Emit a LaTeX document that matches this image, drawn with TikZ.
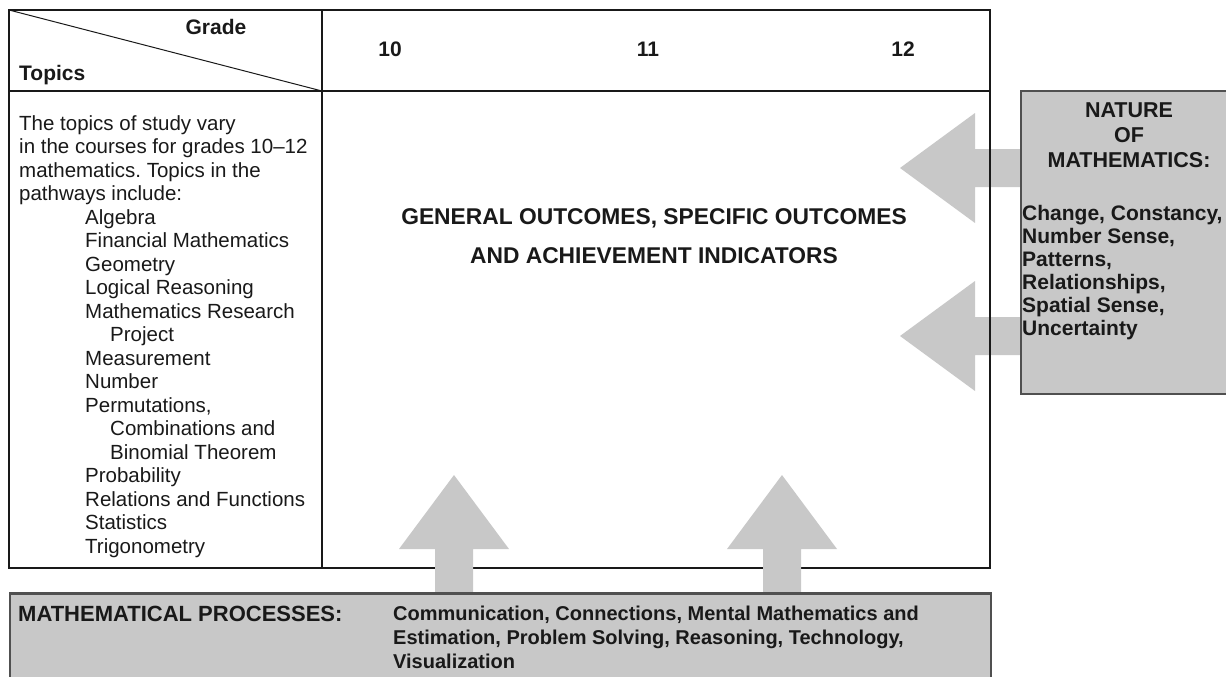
\documentclass[tikz,border=0pt]{standalone}
\usepackage{fontspec}
\setmainfont{Liberation Sans}
\usetikzlibrary{positioning}
\definecolor{panelgray}{RGB}{200,200,200}
\definecolor{framegray}{RGB}{80,80,80}
\definecolor{inkgray}{RGB}{25,25,25}
\frenchspacing

\begin{document}
\begin{tikzpicture}[x=1pt,y=-1pt,
  hd/.style={font=\fontsize{21}{25}\selectfont\bfseries, text=inkgray, inner sep=0pt},
  body/.style={font=\fontsize{20.5}{23.5}\selectfont, text=inkgray, inner sep=0pt, align=left},
  panel/.style={draw=framegray, line width=1.8pt, fill=panelgray, inner sep=0pt, anchor=north west},
  blockarrow/.style={fill=panelgray}]
  \useasboundingbox (0,0) rectangle (1226,677);
  \clip (0,0) rectangle (1226,677);

  % arrows from the nature box (behind the table frame)
  \foreach \ty in {168,336} {
    \fill[blockarrow] (900,\ty) -- ++(75,-55) -- ++(0,36) -- ++(47,0) -- ++(0,38)
      -- ++(-47,0) -- ++(0,36) -- cycle;
  }

  % table
  \draw[inkgray, line width=1.3pt] (9,10) rectangle (990,568);
  \draw[inkgray, line width=1.3pt] (9,91) -- (990,91);
  \draw[inkgray, line width=1.3pt] (322,10) -- (322,568);
  \draw[inkgray, line width=1pt] (9,10) -- (322,91);

  \node[hd, anchor=base] (grade) at (216,35) {Grade};
  \node[hd, anchor=base west] (topics) at (19,81) {Topics};
  \foreach \g/\x in {10/390,11/648,12/903}
    \node[hd, anchor=base] (g\g) at (\x,57) {\g};

  \node[body, anchor=north west] (topiclist) at (19,115) {The topics of study vary\\
    in the courses for grades 10--12\\
    mathematics. Topics in the\\
    pathways include:\\
    \hspace*{66pt}Algebra\\
    \hspace*{66pt}Financial Mathematics\\
    \hspace*{66pt}Geometry\\
    \hspace*{66pt}Logical Reasoning\\
    \hspace*{66pt}Mathematics Research\\
    \hspace*{91pt}Project\\
    \hspace*{66pt}Measurement\\
    \hspace*{66pt}Number\\
    \hspace*{66pt}Permutations,\\
    \hspace*{91pt}Combinations and\\
    \hspace*{91pt}Binomial Theorem\\
    \hspace*{66pt}Probability\\
    \hspace*{66pt}Relations and Functions\\
    \hspace*{66pt}Statistics\\
    \hspace*{66pt}Trigonometry};

  \node[hd, font=\fontsize{22.8}{39}\selectfont\bfseries, align=center, anchor=north] (outcomes)
    at (654,208) {GENERAL OUTCOMES, SPECIFIC OUTCOMES\\AND ACHIEVEMENT INDICATORS};

  % nature of mathematics
  \node[panel, minimum width=230pt, minimum height=303pt] (natbox) at (1020,90) {};
  \node[hd, font=\fontsize{21.5}{25}\selectfont\bfseries, align=center, anchor=north] (nathead)
    at (1129,103) {NATURE\\OF\\MATHEMATICS:};
  \node[hd, font=\fontsize{21}{23}\selectfont\bfseries, align=left, anchor=north west] (natlist)
    at (1022,205) {Change, Constancy,\\Number Sense,\\Patterns,\\Relationships,\\Spatial Sense,\\Uncertainty};

  % mathematical processes
  \node[panel, minimum width=981pt, minimum height=110pt] (procbox) at (9,593) {};
  \foreach \tx in {454,782} {
    \fill[blockarrow] (\tx,475) -- ++(55,74) -- ++(-36,0) -- ++(0,44) -- ++(-38,0)
      -- ++(0,-44) -- ++(-36,0) -- cycle;
  }
  \draw[framegray, line width=1.8pt] (procbox.north west) -- (procbox.north east);
  \node[hd, font=\fontsize{22}{24}\selectfont\bfseries, anchor=base west] (proc) at (18,621) {MATHEMATICAL PROCESSES:};
  \node[hd, font=\fontsize{20}{24}\selectfont\bfseries, align=left, anchor=north west] (proclist)
    at (393,606) {Communication, Connections, Mental Mathematics and\\
    Estimation, Problem Solving, Reasoning, Technology,\\
    Visualization};
\end{tikzpicture}
\end{document}
